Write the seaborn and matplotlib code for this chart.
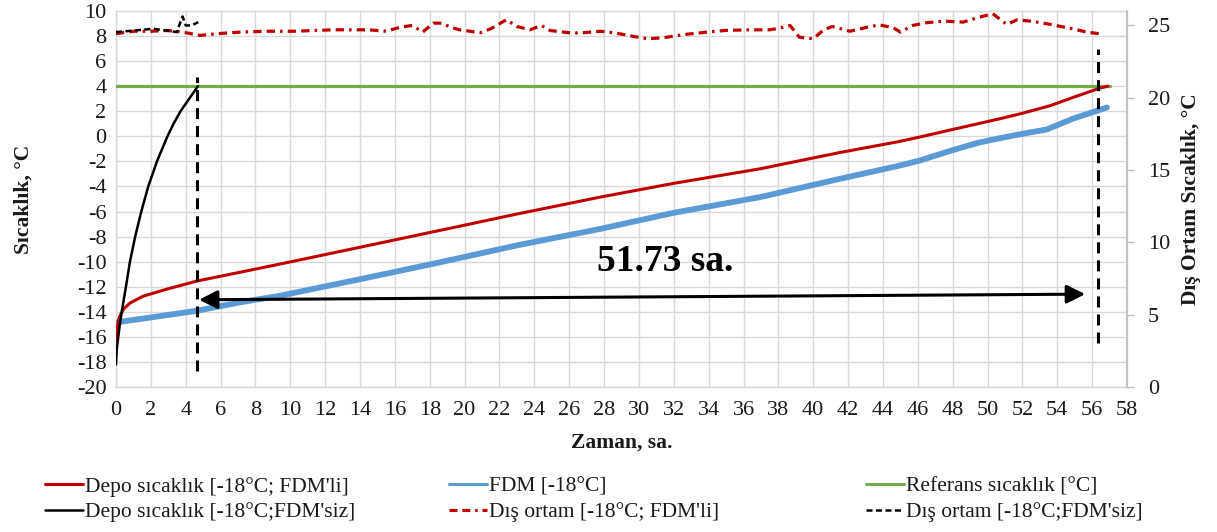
import numpy as np
import pandas as pd
import matplotlib
matplotlib.use("Agg")
import matplotlib.pyplot as plt
from matplotlib.lines import Line2D
import seaborn as sns

# ---------------- data ----------------
# Depo sıcaklık [-18°C; FDM'li]
red_x = [0, 0.05, 0.1, 0.2, 0.42, 0.8, 1.56, 2.9, 4.63, 7.1, 9.41, 14.0, 18.6, 23.0,
         27.77, 32.0, 36.95, 41.5, 44.98, 46.13, 48.0, 50.7, 52.0, 53.6, 54.9, 56.45, 56.9]
red_y = [-16.3, -15.5, -15.0, -14.4, -13.8, -13.3, -12.75, -12.2, -11.55, -10.85, -10.19,
         -8.85, -7.5, -6.2, -4.85, -3.75, -2.59, -1.3, -0.4, -0.05, 0.55, 1.4, 1.84,
         2.45, 3.1, 3.85, 4.0]

# FDM [-18°C]
blue_x = [0, 2.0, 4.63, 7.1, 9.41, 14.0, 18.59, 23.0, 27.77, 32.0, 36.95, 41.5, 45.0,
          46.13, 48.0, 49.5, 50.7, 52.0, 53.4, 54.9, 56.85]
blue_y = [-14.85, -14.45, -13.92, -13.25, -12.72, -11.4, -10.05, -8.7, -7.39, -6.1,
          -4.85, -3.4, -2.32, -1.92, -1.1, -0.5, -0.15, 0.2, 0.55, 1.41, 2.3]

# Referans sıcaklık [°C]
ref_x = [0, 57.0]
ref_y = [4, 4]

# Depo sıcaklık [-18°C;FDM'siz]
black_x = [0, 0.04, 0.13, 0.22, 0.33, 0.45, 0.57, 0.8, 1.1, 1.45, 1.85, 2.35, 2.95,
           3.3, 3.7, 4.2, 4.7]
black_y = [-18.2, -17.0, -16.0, -15.0, -14.0, -13.0, -12.0, -10.0, -8.0, -6.0, -4.0,
           -2.0, 0.0, 1.0, 2.0, 3.0, 4.0]

# Dış ortam [-18°C; FDM'li]  (right axis)
out_red_x = [0, 1.0, 2.0, 2.9, 3.48, 4.05, 4.82, 5.8, 7.1, 8.6, 10.2, 12.5, 14.5, 15.5,
             16.3, 17.0, 17.6, 18.2, 18.7, 19.2, 19.7, 20.9, 21.5, 22.4, 23.0, 23.75,
             24.4, 24.9, 26.2, 26.8, 27.8, 28.7, 29.7, 30.5, 31.4, 32.5, 33.9, 35.0,
             36.4, 37.5, 38.0, 38.67, 39.2, 40.0, 40.6, 41.1, 42.1, 43.1, 43.8, 44.6,
             45.0, 45.7, 46.5, 47.5, 48.6, 49.4, 50.3, 51.1, 51.7, 52.6, 53.4, 54.6,
             55.7, 56.4]
out_red_y = [24.43, 24.6, 24.6, 24.65, 24.6, 24.49, 24.31, 24.43, 24.54, 24.6, 24.6,
             24.7, 24.7, 24.6, 24.88, 25.0, 24.54, 25.16, 25.16, 24.88, 24.7, 24.5,
             24.77, 25.4, 24.93, 24.7, 25.0, 24.65, 24.47, 24.5, 24.6, 24.47, 24.24,
             24.08, 24.15, 24.36, 24.54, 24.66, 24.7, 24.7, 24.8, 25.0, 24.19, 24.08,
             24.7, 24.93, 24.6, 24.88, 25.04, 24.84, 24.54, 25.0, 25.19, 25.3, 25.23,
             25.53, 25.81, 25.07, 25.39, 25.28, 25.12, 24.84, 24.54, 24.43]

# Dış ortam [-18°C;FDM'siz]  (right axis)
out_blk_x = [0, 1.0, 2.14, 2.9, 3.48, 3.82, 4.0, 4.34, 4.72]
out_blk_y = [24.54, 24.65, 24.77, 24.65, 24.54, 25.62, 25.0, 25.0, 25.23]

# annotation values
t_start, t_end = 4.67, 56.36
duration_label = "51.73 sa."

x_ticks = list(range(0, 60, 2))
y_ticks = list(range(-20, 12, 2))
y2_ticks = [0, 5, 10, 15, 20, 25]

labels = {
    "red": "Depo sıcaklık [-18°C; FDM'li]",
    "blue": "FDM [-18°C]",
    "ref": "Referans sıcaklık [°C]",
    "black": "Depo sıcaklık [-18°C;FDM'siz]",
    "out_red": "Dış ortam [-18°C; FDM'li]",
    "out_blk": "Dış ortam [-18°C;FDM'siz]",
}

# ---------------- style ----------------
sns.set_theme(style="white")
plt.rcParams["font.family"] = ["Liberation Serif", "DejaVu Serif"]
plt.rcParams["font.size"] = 14
plt.rcParams["axes.unicode_minus"] = False

C_RED = "#C00000"
C_BLUE = "#5B9BD5"
C_GREEN = "#70AD47"
C_GRID = "#D9D9D9"
C_TXT = "#1a1a1a"

RED_DASH = (0, (2.6, 1.6, 2.6, 1.6, 0.8, 1.6))
BLK_DASH = (0, (2.4, 1.4))

fig = plt.figure(figsize=(12.17, 5.32), dpi=100)
ax = fig.add_axes([116 / 1217, 1 - 387 / 532, (1127 - 116) / 1217, (387 - 11) / 532])
ax2 = ax.twinx()

# main series (left axis)
sns.lineplot(x=blue_x, y=blue_y, ax=ax, color=C_BLUE, lw=4.2, sort=False,
             estimator=None, legend=False, zorder=3)
sns.lineplot(x=ref_x, y=ref_y, ax=ax, color=C_GREEN, lw=2.3, sort=False,
             estimator=None, legend=False, zorder=3)
sns.lineplot(x=red_x, y=red_y, ax=ax, color=C_RED, lw=2.2, sort=False,
             estimator=None, legend=False, zorder=4)
sns.lineplot(x=black_x, y=black_y, ax=ax, color="black", lw=1.8, sort=False,
             estimator=None, legend=False, zorder=4)
for ln in ax.lines:
    ln.set_solid_joinstyle("round")

# outside temps (right axis)
sns.lineplot(x=out_red_x, y=out_red_y, ax=ax2, color=C_RED, lw=2.3, sort=False,
             estimator=None, legend=False)
ax2.lines[-1].set_linestyle(RED_DASH)
sns.lineplot(x=out_blk_x, y=out_blk_y, ax=ax2, color="black", lw=1.8, sort=False,
             estimator=None, legend=False)
ax2.lines[-1].set_linestyle(BLK_DASH)

# axes
ax.set_xlim(0, 58)
ax.set_ylim(-20, 10)
ax2.set_ylim(0, 26)
ax.set_xticks(x_ticks)
ax.set_yticks(y_ticks)
ax2.set_yticks(y2_ticks)
ax.grid(True, color=C_GRID, lw=1.0)
ax.set_axisbelow(True)
for sp in ax.spines.values():
    sp.set_color(C_GRID)
    sp.set_linewidth(1.0)
for sp in ax2.spines.values():
    sp.set_visible(False)
ax2.spines["right"].set_visible(True)
ax2.spines["right"].set_color("#BFBFBF")

ax.tick_params(axis="both", length=0, labelsize=16, colors=C_TXT)
ax.tick_params(axis="y", pad=7)
ax.tick_params(axis="x", pad=10)
ax2.tick_params(axis="y", length=5, width=1, color="#BFBFBF", labelsize=16,
                colors=C_TXT, pad=10)
ax2.tick_params(axis="y", color="#BFBFBF")

ax.set_xlabel("Zaman, sa.", fontsize=15.5, fontweight="bold", labelpad=9, color=C_TXT)
ax.set_ylabel("Sıcaklık, °C", fontsize=15.5, fontweight="bold", labelpad=31, color=C_TXT)
ax2.set_ylabel("Dış Ortam Sıcaklık, °C", fontsize=15.5, fontweight="bold", labelpad=8,
               color=C_TXT)

# vertical markers
ax.plot([t_start, t_start], [-18.7, 4.7], color="black", lw=2.2,
        linestyle=(0, (3.6, 2.3)), zorder=5)
ax.plot([t_end, t_end], [-16.5, 7.0], color="black", lw=2.2,
        linestyle=(0, (3.6, 2.3)), zorder=5)

# duration arrow
ax.annotate("", xy=(4.76, -13.04), xytext=(55.6, -12.59),
            arrowprops=dict(arrowstyle="<|-|>", lw=2.2, color="black",
                            mutation_scale=28, shrinkA=0, shrinkB=0), zorder=6)
ax.text(27.57, -10.78, duration_label, fontsize=27, fontweight="bold",
        ha="left", va="baseline", color="black", zorder=6)

# legends (three columns)
def mk(color, lw, ls="-"):
    return Line2D([0], [0], color=color, lw=lw, linestyle=ls)

cols = [
    (45, [mk(C_RED, 2.2), mk("black", 1.8)], [labels["red"], labels["black"]]),
    (449, [mk(C_BLUE, 2.2), mk(C_RED, 2.2, RED_DASH)], [labels["blue"], labels["out_red"]]),
    (866, [mk(C_GREEN, 2.2), mk("black", 1.8, BLK_DASH)], [labels["ref"], labels["out_blk"]]),
]
for xpx, hs, ls in cols:
    fig.legend(hs, ls, loc="center left", bbox_to_anchor=(xpx / 1217, 1 - 499.5 / 532),
               frameon=False, fontsize=15.5, handlelength=1.75, handletextpad=0.12,
               labelspacing=0.25, borderpad=0, borderaxespad=0,
               labelcolor=C_TXT)

fig.savefig("out.png", dpi=100)
